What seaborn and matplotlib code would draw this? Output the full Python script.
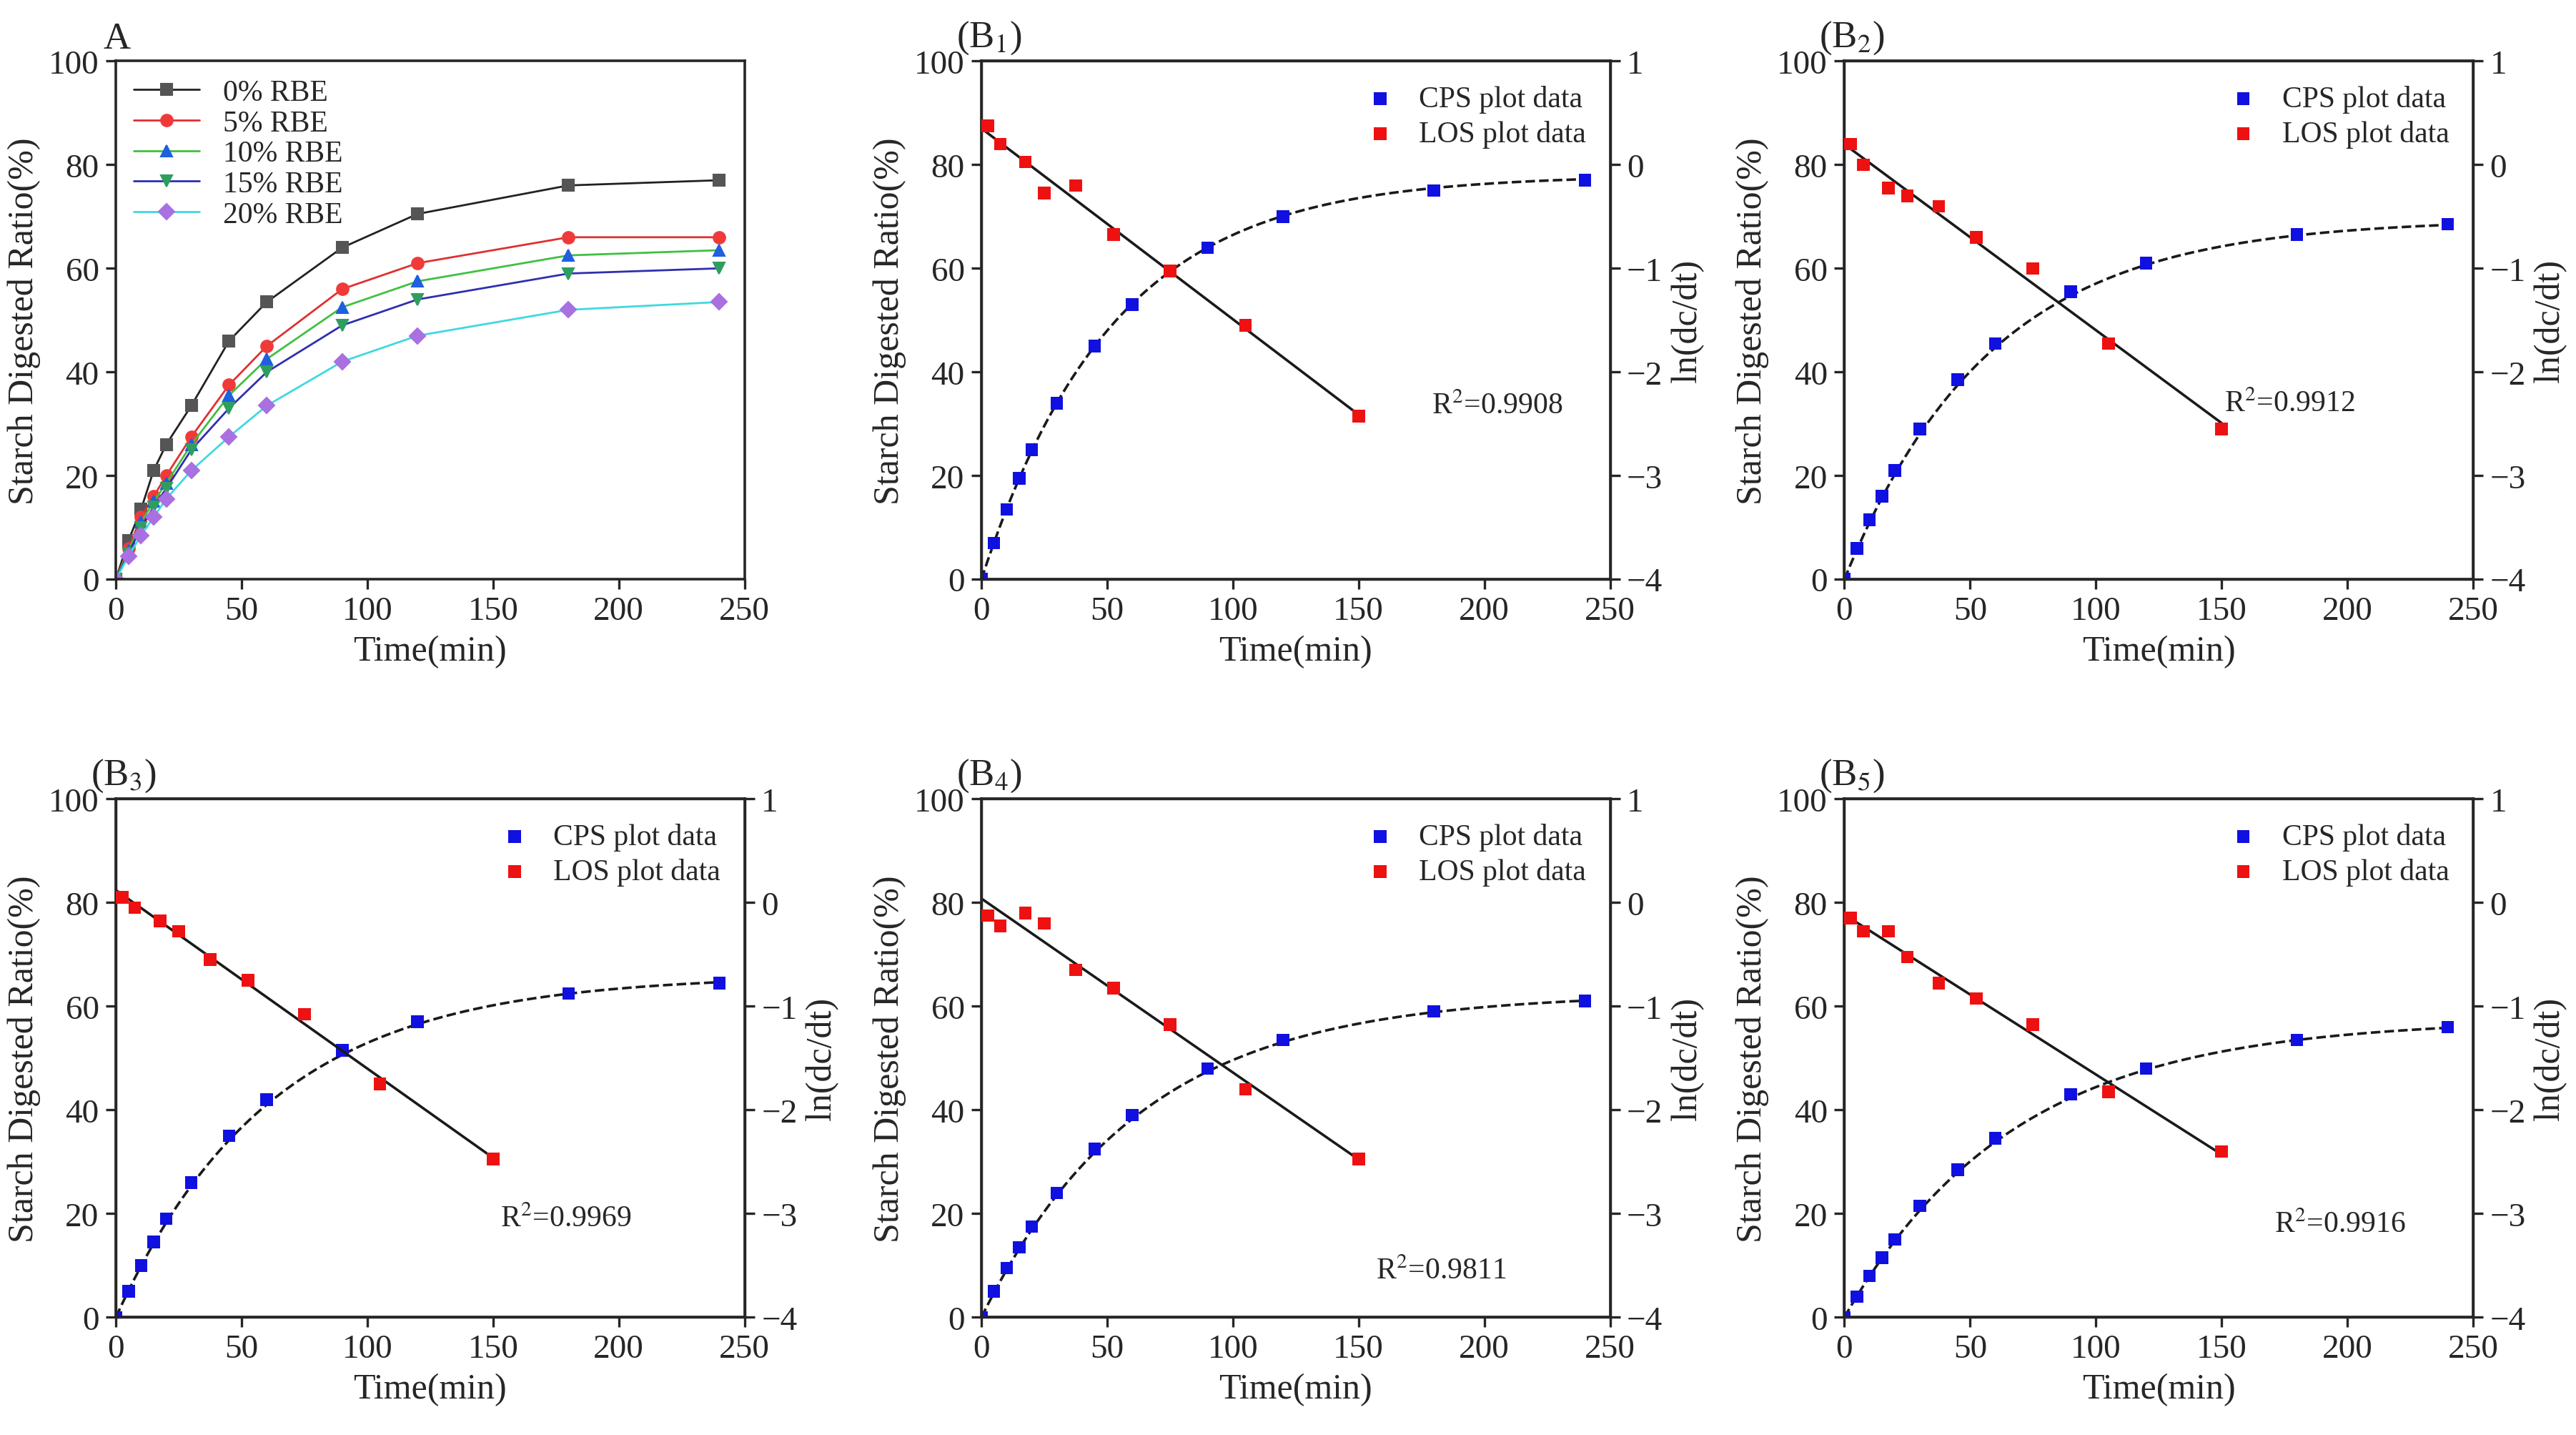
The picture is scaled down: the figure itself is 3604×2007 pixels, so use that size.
import numpy as np
import pandas as pd
import matplotlib.pyplot as plt
import seaborn as sns

# time points (min)
time = [0, 5, 10, 15, 20, 30, 45, 60, 90, 120, 180, 240]
groups = ["0% RBE", "5% RBE", "10% RBE", "15% RBE", "20% RBE"]
rbe0 = [0, 7.5, 13.5, 21, 26, 33.5, 46, 53.5, 64, 70.5, 76, 77]
rbe5 = [0, 6, 12, 16, 20, 27.5, 37.5, 45, 56, 61, 66, 66]
rbe10 = [0, 5.5, 11, 15, 18.5, 26, 35.5, 42.5, 52.5, 57.5, 62.5, 63.5]
rbe15 = [0, 5, 10, 14, 17.5, 25, 33, 40, 49, 54, 59, 60]
rbe20 = [0, 4.5, 8.5, 12, 15.5, 21, 27.5, 33.5, 42, 47, 52, 53.5]

# CPS data for B panels (%)
cps = [
    [0, 7, 13.5, 19.5, 25, 34, 45, 53, 64, 70, 75, 77],
    [0, 6, 11.5, 16, 21, 29, 38.5, 45.5, 55.5, 61, 66.5, 68.5],
    [0, 5, 10, 14.5, 19, 26, 35, 42, 51.5, 57, 62.5, 64.5],
    [0, 5, 9.5, 13.5, 17.5, 24, 32.5, 39, 48, 53.5, 59, 61],
    [0, 4, 8, 11.5, 15, 21.5, 28.5, 34.5, 43, 48, 53.5, 56],
]
# first-order fit parameters: C_inf (%), k (1/min)
c_inf = [78, 69.5, 66, 62.5, 57.5]
k_fit = [0.0191, 0.0172, 0.0162, 0.0158, 0.0148]

# LOS data: midpoint times and ln(dc/dt)
los_time = [2.5, 7.5, 17.5, 25, 37.5, 52.5, 75, 105, 150]
los = [
    [0.375, 0.2, 0.025, -0.275, -0.2, -0.675, -1.025, -1.55, -2.425],
    [0.2, 0.0, -0.225, -0.3, -0.4, -0.7, -1.0, -1.725, -2.55],
    [0.05, -0.05, -0.175, -0.275, -0.55, -0.75, -1.075, -1.75, -2.475],
    [-0.125, -0.225, -0.1, -0.2, -0.65, -0.825, -1.175, -1.8, -2.475],
    [-0.15, -0.275, -0.275, -0.525, -0.775, -0.925, -1.175, -1.825, -2.4],
]
r2 = ["0.9908", "0.9912", "0.9969", "0.9811", "0.9916"]
r2_pos = [(179, 32), (151, 32.5), (153, 17.5), (157, 7.5), (171, 16.5)]

sns.set_theme(style="ticks")
plt.rcParams["font.family"] = ["Liberation Serif", "DejaVu Serif"]
plt.rcParams["mathtext.fontset"] = "stix"
plt.rcParams["font.size"] = 17

fig = plt.figure(figsize=(18.02, 10.04), dpi=200)
lefts = [0.045, 0.381, 0.716]
width = 0.244
bottoms = [0.596, 0.082]
height = 0.361

def style_axis(ax):
    ax.set_xlim(0, 250)
    ax.set_ylim(0, 100)
    ax.set_xticks([0, 50, 100, 150, 200, 250])
    ax.set_yticks([0, 20, 40, 60, 80, 100])
    ax.set_xlabel("Time(min)", fontsize=18)
    ax.set_ylabel("Starch Digested Ratio(%)", fontsize=18)
    ax.tick_params(labelsize=17, width=1.2, length=5)
    for s in ax.spines.values():
        s.set_linewidth(1.3)

# Panel A
axA = fig.add_axes([lefts[0], bottoms[0], width, height])
dfA = pd.DataFrame({"time": time * 5,
                    "ratio": rbe0 + rbe5 + rbe10 + rbe15 + rbe20,
                    "group": np.repeat(groups, len(time))})
line_colors = ["#222222", "#e03030", "#40c040", "#2f2fb0", "#40d8e0"]
mk_colors = ["#555555", "#f03a3a", "#1f5fe0", "#2e9e5e", "#a870e0"]
markers = ["s", "o", "^", "v", "D"]
for g, lc, mc, m in zip(groups, line_colors, mk_colors, markers):
    sub = dfA[dfA["group"] == g]
    sns.lineplot(data=sub, x="time", y="ratio", ax=axA, color=lc, lw=1,
                 marker=m, markerfacecolor=mc, markeredgecolor=mc,
                 markersize=6 if m != "D" else 5.5, label=g)
style_axis(axA)
axA.legend(loc="upper left", frameon=False, fontsize=15, handlelength=2.2,
           labelspacing=0.1, borderaxespad=0.2)
axA.text(-0.02, 1.01, "A", transform=axA.transAxes, fontsize=19, va="bottom")

# Panels B1-B5
slots = [(1, 0), (2, 0), (0, 1), (1, 1), (2, 1)]
for i, (c, r) in enumerate(slots):
    ax = fig.add_axes([lefts[c], bottoms[r], width, height])
    ax2 = ax.twinx()
    dfc = pd.DataFrame({"time": time, "ratio": cps[i]})
    tfit = np.linspace(0, 240, 200)
    ax.plot(tfit, c_inf[i] * (1 - np.exp(-k_fit[i] * tfit)), "k--", lw=1.3)
    sns.scatterplot(data=dfc, x="time", y="ratio", ax=ax, marker="s",
                    color="#1010e0", edgecolor="none", s=40, label="CPS plot data",
                    zorder=3)
    dfl = pd.DataFrame({"time": los_time, "ln": los[i]})
    slope, icpt = np.polyfit(los_time, los[i], 1)
    tl = np.array([0, 150])
    ax2.plot(tl, slope * tl + icpt, "k-", lw=1.3)
    sns.scatterplot(data=dfl, x="time", y="ln", ax=ax2, marker="s",
                    color="#ee1111", edgecolor="none", s=40, label="LOS plot data",
                    zorder=3)
    style_axis(ax)
    ax2.set_ylim(-4, 1)
    ax2.set_yticks([-4, -3, -2, -1, 0, 1])
    ax2.set_ylabel("ln(dc/dt)", fontsize=18)
    ax2.tick_params(labelsize=17, width=1.2, length=5)
    h1, l1 = ax.get_legend_handles_labels()
    h2, l2 = ax2.get_legend_handles_labels()
    if ax.get_legend():
        ax.get_legend().remove()
    ax2.legend(h1 + h2, l1 + l2, loc="upper right", frameon=False, fontsize=15,
               handletextpad=0.3, labelspacing=0.25, borderaxespad=0.4)
    ax.text(r2_pos[i][0], r2_pos[i][1], "R$^2$=" + r2[i], fontsize=15)
    ax.text(-0.04, 1.01, "(B$_%d$)" % (i + 1), transform=ax.transAxes,
            fontsize=19, va="bottom")

fig.savefig("out.png", dpi=200)
